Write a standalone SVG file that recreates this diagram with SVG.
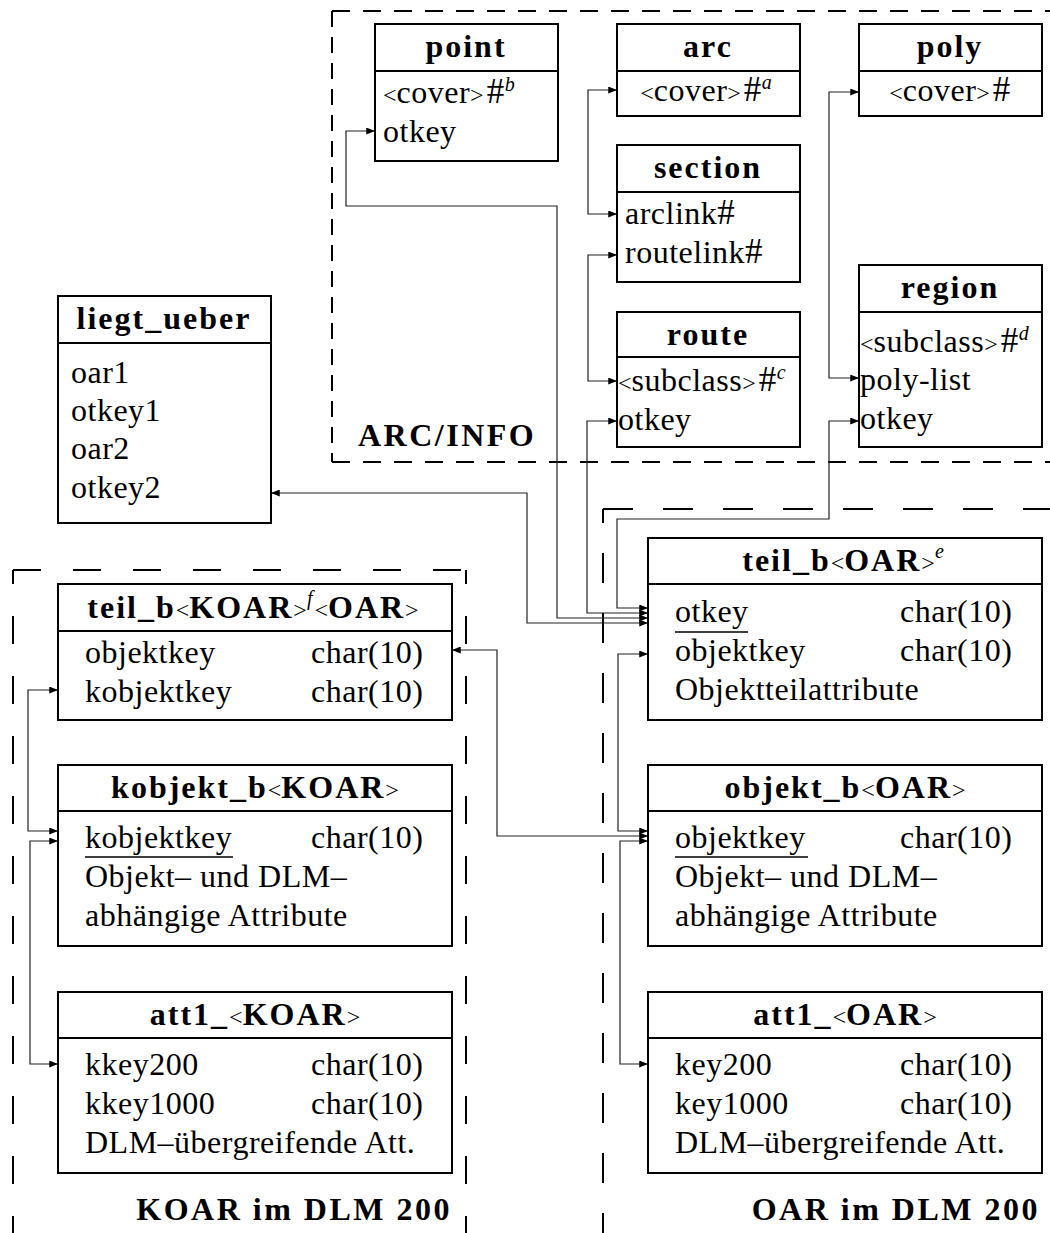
<svg xmlns="http://www.w3.org/2000/svg" width="1050" height="1233" viewBox="0 0 1050 1233">
  <defs>
    <marker id="ah" viewBox="0 0 10 8" refX="10" refY="4" markerWidth="9" markerHeight="7" markerUnits="userSpaceOnUse" orient="auto-start-reverse">
      <path d="M0,0 L10,4 L0,8 z" fill="#000"/>
    </marker>
    <style>
      .box { fill: #fff; stroke: #000; stroke-width: 2; }
      .div { stroke: #000; stroke-width: 2; }
      .t { font-family: "Liberation Serif", "Times New Roman", serif; font-size: 32px; letter-spacing: 0.5px; fill: #000; }
      .h { font-weight: bold; letter-spacing: 2px; text-anchor: middle; }
      .c { text-anchor: middle; }
      .lbl { font-weight: bold; letter-spacing: 2.5px; }
      .end { text-anchor: end; }
      .sm { font-size: 24px; font-weight: normal; letter-spacing: 0; }
      .hash { font-size: 35px; }
      .sup { font-size: 20px; font-style: italic; font-weight: normal; letter-spacing: 0; }
      .ul { stroke: #000; stroke-width: 1.5; }
      .con { fill: none; stroke: #222; stroke-width: 1.2; marker-start: url(#ah); marker-end: url(#ah); }
      .frame { fill: none; stroke: #000; stroke-width: 2; }
    </style>
  </defs>
  <rect width="1050" height="1233" fill="#fff"/>

  <!-- dashed frames -->
  <g id="frames">
    <path class="frame" d="M332,11 H1050" stroke-dasharray="18 13"/>
    <path class="frame" d="M332,462 H1050" stroke-dasharray="18 13"/>
    <path class="frame" d="M332,11 V462" stroke-dasharray="16 10"/>
    <path class="frame" d="M603,509 H1050" stroke-dasharray="30 30"/>
    <path class="frame" d="M603,509 V1233" stroke-dasharray="30 30" stroke-dashoffset="16"/>
    <path class="frame" d="M13,570 H466" stroke-dasharray="28 32"/>
    <path class="frame" d="M13,570 V1233" stroke-dasharray="28 32" stroke-dashoffset="14"/>
    <path class="frame" d="M466,570 V1233" stroke-dasharray="28 32" stroke-dashoffset="14"/>
    <text class="t lbl" x="358" y="446">ARC/INFO</text>
    <text class="t lbl end" x="452" y="1220">KOAR im DLM 200</text>
    <text class="t lbl end" x="1040" y="1220">OAR im DLM 200</text>
  </g>

  <!-- connectors -->
  <g id="connectors">
    <path class="con" d="M648,608 H617 V519 H829 V421 H859"/>
    <path class="con" d="M648,613 H587 V421 H617"/>
    <path class="con" d="M648,618 H557 V206 H346 V131 H375"/>
    <path class="con" d="M648,623 H527 V493 H271"/>
    <path class="con" d="M617,90 H588 V214 H617"/>
    <path class="con" d="M617,255 H588 V381 H617"/>
    <path class="con" d="M859,92 H829 V378 H859"/>
    <path class="con" d="M648,654 H618 V831 H648"/>
    <path class="con" d="M452,650 H497 V836 H648"/>
    <path class="con" d="M648,841 H620 V1064 H648"/>
    <path class="con" d="M58,690 H28 V831 H58"/>
    <path class="con" d="M58,841 H30 V1064 H58"/>
  </g>

  <g id="point">
    <rect class="box" x="375" y="24" width="183" height="137"/>
    <line class="div" x1="375" y1="71" x2="558" y2="71"/>
    <text class="t h" x="466" y="57">point</text>
    <text class="t" x="383" y="103"><tspan class="sm">&lt;</tspan>cover<tspan class="sm">&gt;</tspan><tspan class="hash" dx="3">#</tspan><tspan class="sup" dy="-12">b</tspan></text>
    <text class="t" x="383" y="142">otkey</text>
  </g>

  <g id="arc">
    <rect class="box" x="617" y="24" width="183" height="92"/>
    <line class="div" x1="617" y1="71" x2="800" y2="71"/>
    <text class="t h" x="708" y="57">arc</text>
    <text class="t c" x="706" y="101"><tspan class="sm">&lt;</tspan>cover<tspan class="sm">&gt;</tspan><tspan class="hash" dx="3">#</tspan><tspan class="sup" dy="-12">a</tspan></text>
  </g>

  <g id="poly">
    <rect class="box" x="859" y="24" width="183" height="92"/>
    <line class="div" x1="859" y1="71" x2="1042" y2="71"/>
    <text class="t h" x="950" y="57">poly</text>
    <text class="t c" x="950" y="101"><tspan class="sm">&lt;</tspan>cover<tspan class="sm">&gt;</tspan><tspan class="hash" dx="3">#</tspan></text>
  </g>

  <g id="section">
    <rect class="box" x="617" y="145" width="183" height="137"/>
    <line class="div" x1="617" y1="192" x2="800" y2="192"/>
    <text class="t h" x="708" y="178">section</text>
    <text class="t" x="625" y="224">arclink<tspan class="hash">#</tspan></text>
    <text class="t" x="625" y="263">routelink<tspan class="hash">#</tspan></text>
  </g>

  <g id="route">
    <rect class="box" x="617" y="312" width="183" height="135"/>
    <line class="div" x1="617" y1="357" x2="800" y2="357"/>
    <text class="t h" x="708" y="345">route</text>
    <text class="t" x="618" y="391"><tspan class="sm">&lt;</tspan>subclass<tspan class="sm">&gt;</tspan><tspan class="hash" dx="3">#</tspan><tspan class="sup" dy="-12">c</tspan></text>
    <text class="t" x="618" y="430">otkey</text>
  </g>

  <g id="region">
    <rect class="box" x="859" y="265" width="183" height="182"/>
    <line class="div" x1="859" y1="312" x2="1042" y2="312"/>
    <text class="t h" x="950" y="298">region</text>
    <text class="t" x="860" y="352"><tspan class="sm">&lt;</tspan>subclass<tspan class="sm">&gt;</tspan><tspan class="hash" dx="3">#</tspan><tspan class="sup" dy="-12">d</tspan></text>
    <text class="t" x="860" y="390">poly-list</text>
    <text class="t" x="860" y="429">otkey</text>
  </g>

  <g id="liegt_ueber">
    <rect class="box" x="58" y="296" width="213" height="227"/>
    <line class="div" x1="58" y1="343" x2="271" y2="343"/>
    <text class="t h" x="164" y="329">liegt_ueber</text>
    <text class="t" x="71" y="383">oar1</text>
    <text class="t" x="71" y="421">otkey1</text>
    <text class="t" x="71" y="459">oar2</text>
    <text class="t" x="71" y="498">otkey2</text>
  </g>

  <g id="teil_b_koar">
    <rect class="box" x="58" y="584" width="394" height="136"/>
    <line class="div" x1="58" y1="631" x2="452" y2="631"/>
    <text class="t h" x="253" y="618">teil_b<tspan class="sm">&lt;</tspan>KOAR<tspan class="sm">&gt;</tspan><tspan class="sup" dy="-13">f</tspan><tspan class="sm" dx="2" dy="13">&lt;</tspan>OAR<tspan class="sm">&gt;</tspan></text>
    <text class="t" x="85" y="663">objektkey</text>
    <text class="t" x="311" y="663">char(10)</text>
    <text class="t" x="85" y="702">kobjektkey</text>
    <text class="t" x="311" y="702">char(10)</text>
  </g>

  <g id="kobjekt_b">
    <rect class="box" x="58" y="765" width="394" height="181"/>
    <line class="div" x1="58" y1="811" x2="452" y2="811"/>
    <text class="t h" x="255" y="798">kobjekt_b<tspan class="sm">&lt;</tspan>KOAR<tspan class="sm">&gt;</tspan></text>
    <text class="t" x="85" y="848">kobjektkey</text>
    <line class="ul" x1="85" y1="857" x2="233" y2="857"/>
    <text class="t" x="311" y="848">char(10)</text>
    <text class="t" x="85" y="887">Objekt– und DLM–</text>
    <text class="t" x="85" y="926">abhängige Attribute</text>
  </g>

  <g id="att1_koar">
    <rect class="box" x="58" y="992" width="394" height="181"/>
    <line class="div" x1="58" y1="1038" x2="452" y2="1038"/>
    <text class="t h" x="255" y="1025">att1_<tspan class="sm">&lt;</tspan>KOAR<tspan class="sm">&gt;</tspan></text>
    <text class="t" x="85" y="1075">kkey200</text>
    <text class="t" x="311" y="1075">char(10)</text>
    <text class="t" x="85" y="1114">kkey1000</text>
    <text class="t" x="311" y="1114">char(10)</text>
    <text class="t" x="85" y="1153">DLM–übergreifende Att.</text>
  </g>

  <g id="teil_b_oar">
    <rect class="box" x="648" y="538" width="394" height="182"/>
    <line class="div" x1="648" y1="584" x2="1042" y2="584"/>
    <text class="t h" x="843" y="571">teil_b<tspan class="sm">&lt;</tspan>OAR<tspan class="sm">&gt;</tspan><tspan class="sup" dy="-13">e</tspan></text>
    <text class="t" x="675" y="622">otkey</text>
    <line class="ul" x1="675" y1="632" x2="748" y2="632"/>
    <text class="t" x="900" y="622">char(10)</text>
    <text class="t" x="675" y="661">objektkey</text>
    <text class="t" x="900" y="661">char(10)</text>
    <text class="t" x="675" y="700">Objektteilattribute</text>
  </g>

  <g id="objekt_b">
    <rect class="box" x="648" y="765" width="394" height="181"/>
    <line class="div" x1="648" y1="811" x2="1042" y2="811"/>
    <text class="t h" x="845" y="798">objekt_b<tspan class="sm">&lt;</tspan>OAR<tspan class="sm">&gt;</tspan></text>
    <text class="t" x="675" y="848">objektkey</text>
    <line class="ul" x1="675" y1="857" x2="808" y2="857"/>
    <text class="t" x="900" y="848">char(10)</text>
    <text class="t" x="675" y="887">Objekt– und DLM–</text>
    <text class="t" x="675" y="926">abhängige Attribute</text>
  </g>

  <g id="att1_oar">
    <rect class="box" x="648" y="992" width="394" height="181"/>
    <line class="div" x1="648" y1="1038" x2="1042" y2="1038"/>
    <text class="t h" x="845" y="1025">att1_<tspan class="sm">&lt;</tspan>OAR<tspan class="sm">&gt;</tspan></text>
    <text class="t" x="675" y="1075">key200</text>
    <text class="t" x="900" y="1075">char(10)</text>
    <text class="t" x="675" y="1114">key1000</text>
    <text class="t" x="900" y="1114">char(10)</text>
    <text class="t" x="675" y="1153">DLM–übergreifende Att.</text>
  </g>
</svg>
